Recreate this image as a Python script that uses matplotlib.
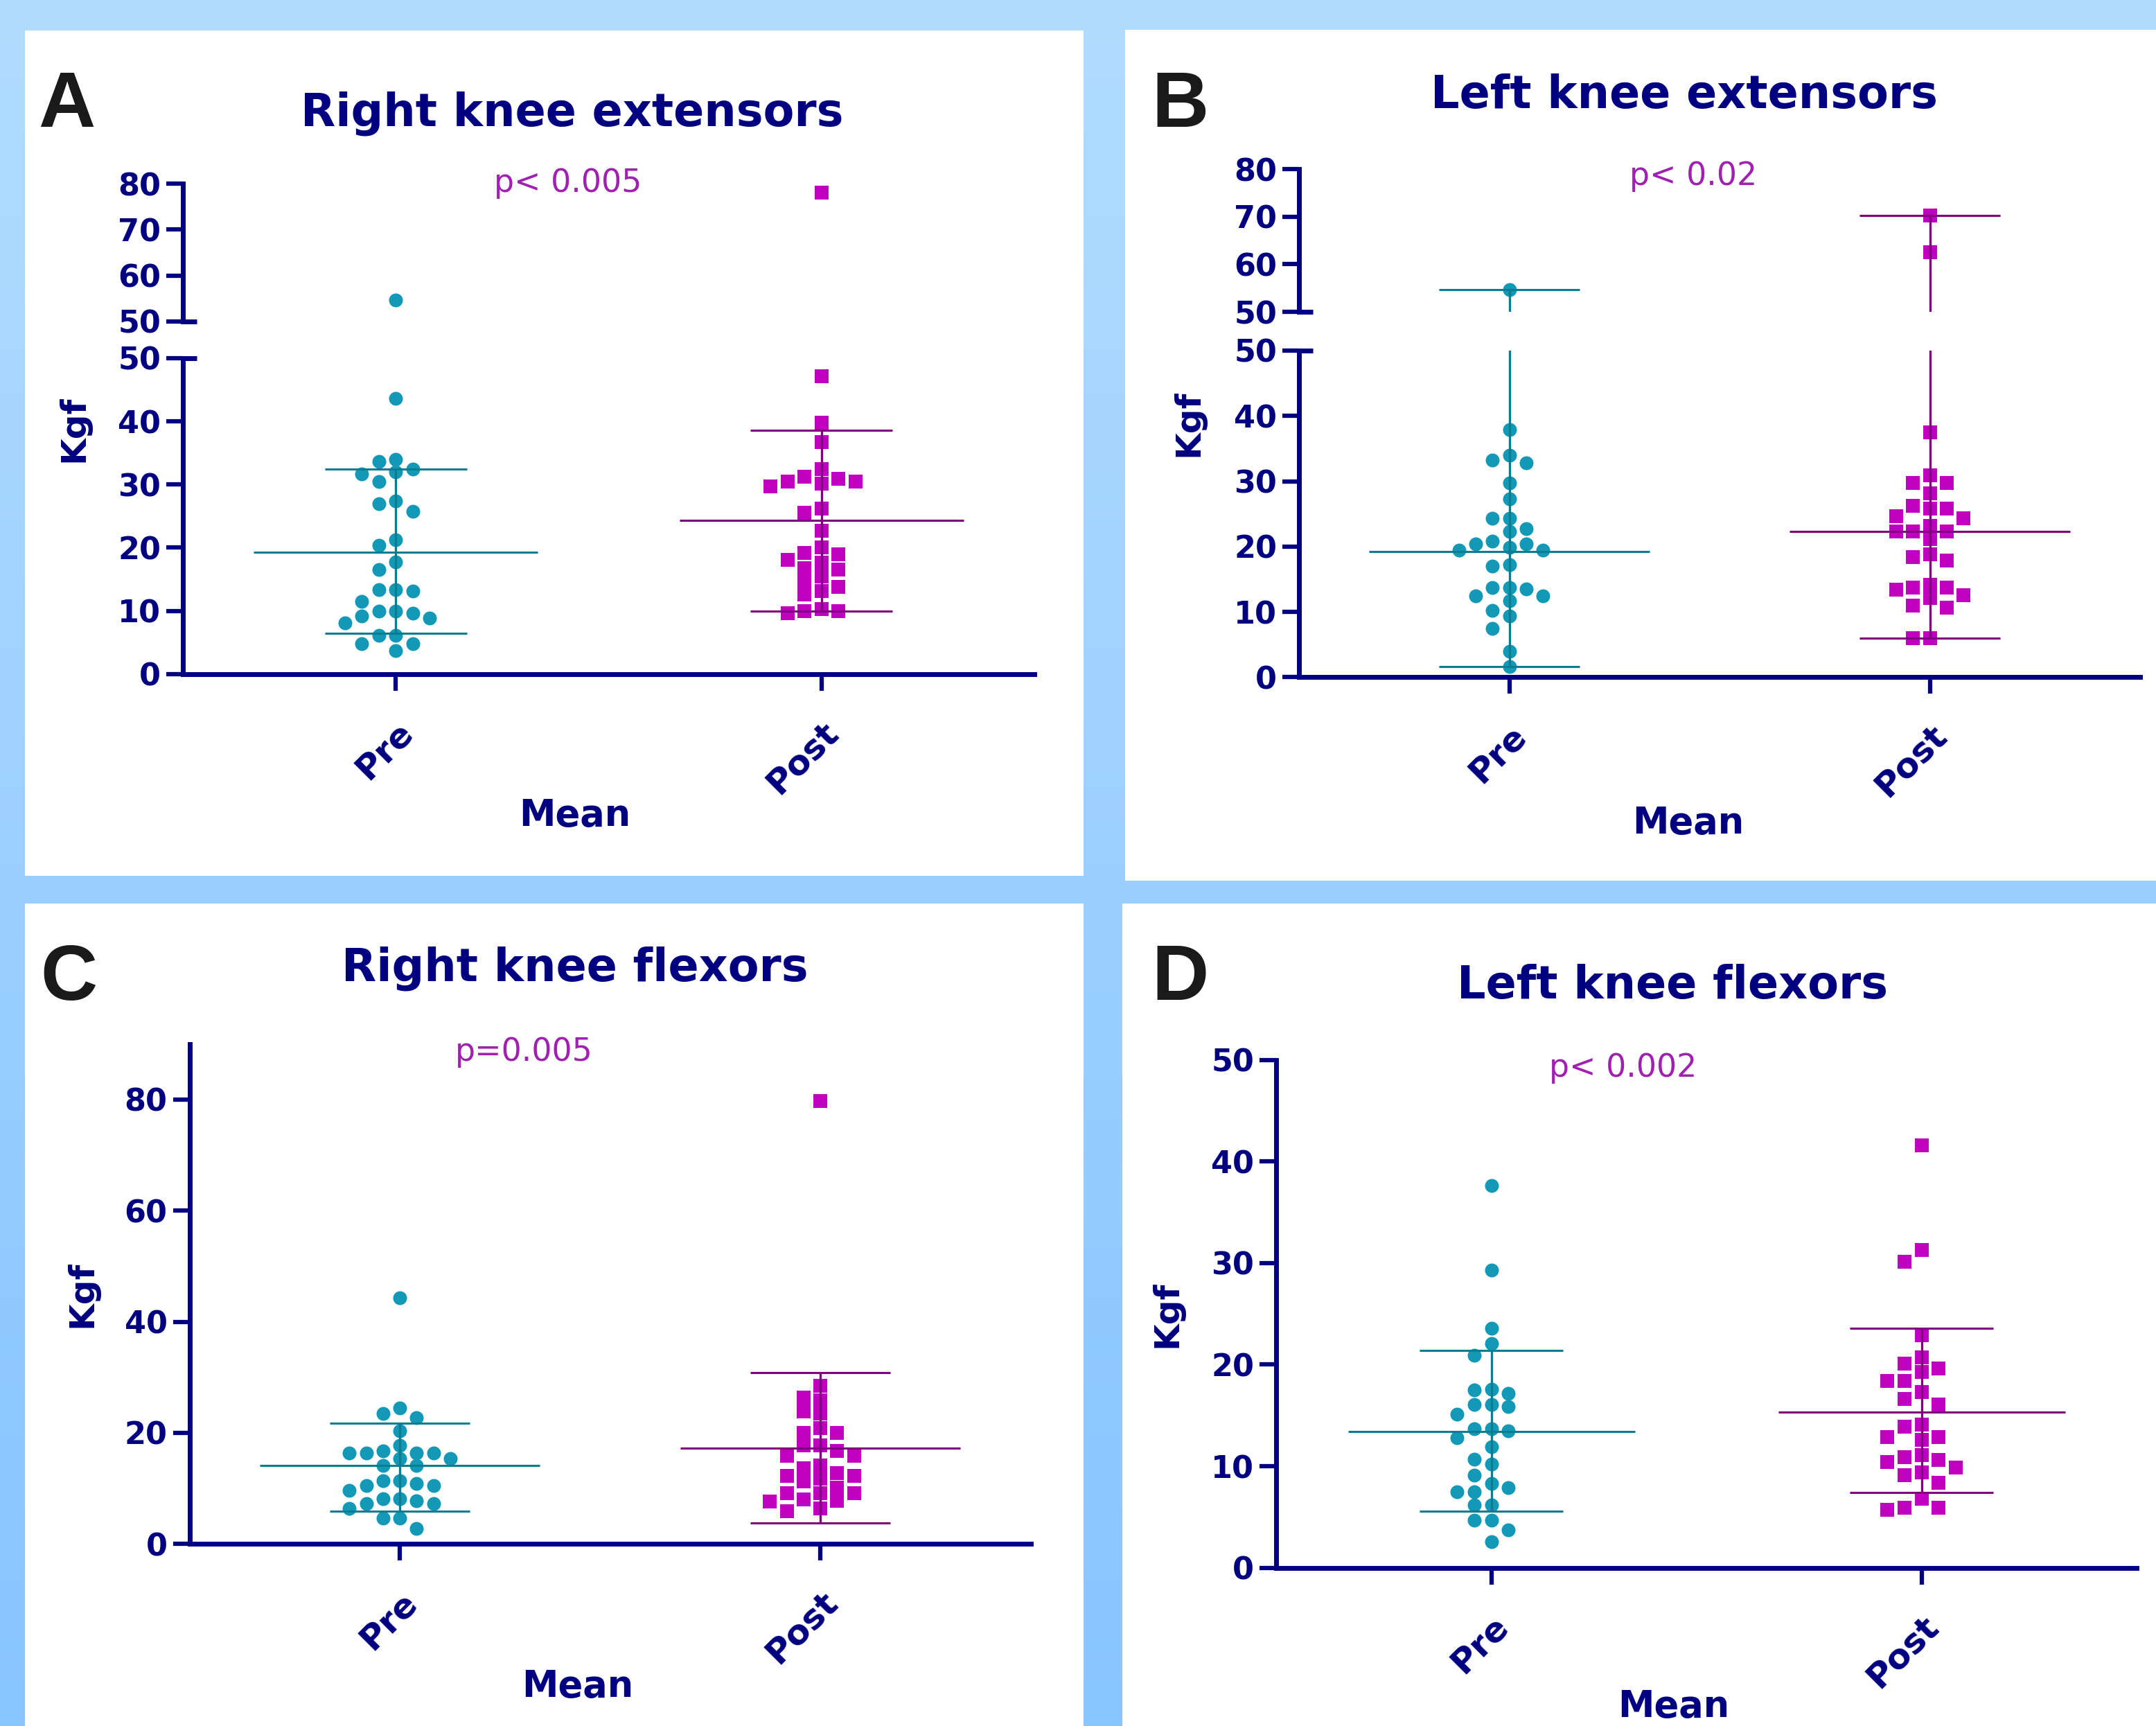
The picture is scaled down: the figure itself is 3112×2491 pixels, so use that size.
import numpy as np
import matplotlib
matplotlib.use("Agg")
import matplotlib.pyplot as plt
from matplotlib.patches import Rectangle

W, H = 3112, 2491

# values (Kgf)
groups = ["Pre", "Post"]

a_pre = [54.6, 43.6, 33.6, 34.0, 32.4, 31.7, 32.0, 30.5, 27.4, 27.0, 25.8, 21.2, 20.4, 17.7, 16.5,
         13.4, 13.1, 13.4, 11.5, 9.9, 9.6, 8.1, 8.85, 9.15, 9.9, 6.1, 6.1, 4.8, 4.8, 3.7]
a_post = [78.1, 47.2, 39.8, 36.7, 32.4, 30.9, 30.5, 29.7, 30.1, 30.5, 31.2, 26.2, 25.5, 22.7, 20.0,
          19.2, 18.9, 18.1, 17.6, 16.7, 16.5, 15.4, 14.6, 13.8, 13.1, 12.6, 9.9, 9.6, 9.9, 10.3]
a_mean = [19.3, 24.3]
a_low = [6.4, 9.9]
a_high = [32.4, 38.6]

b_pre = [54.6, 37.9, 34.0, 32.8, 33.2, 29.7, 27.3, 24.3, 24.3, 22.3, 22.7, 20.8, 20.4, 19.4, 19.5,
         20.4, 19.9, 17.0, 17.2, 13.7, 13.7, 13.5, 12.5, 12.5, 11.7, 10.2, 9.4, 7.5, 4.0, 1.6]
b_post = [70.2, 62.6, 37.5, 30.9, 29.7, 29.7, 28.1, 25.8, 25.8, 26.2, 24.6, 24.3, 23.2, 22.3, 22.3,
          22.3, 21.2, 18.4, 18.8, 17.9, 13.7, 14.2, 13.4, 13.7, 12.1, 12.6, 11.0, 10.7, 6.0, 6.0]
b_mean = [19.2, 22.3]
b_low = [1.6, 6.0]
b_high = [54.6, 70.2]

c_pre = [44.3, 23.5, 24.5, 22.7, 20.4, 17.7, 16.4, 16.4, 15.4, 14.1, 14.1, 15.4, 16.4, 16.4, 16.8,
         11.4, 10.5, 9.6, 10.5, 10.9, 11.4, 8.2, 7.8, 7.3, 6.4, 7.3, 8.2, 4.7, 4.7, 2.8]
c_post = [79.8, 28.5, 25.9, 26.3, 23.9, 23.5, 20.9, 20.0, 20.0, 17.7, 17.7, 15.9, 15.9, 16.7, 14.1,
          13.6, 12.3, 11.8, 12.3, 12.7, 11.3, 10.1, 8.0, 9.2, 7.7, 9.2, 9.2, 7.8, 6.4, 5.9]
c_mean = [14.1, 17.3]
c_low = [5.9, 3.8]
c_high = [21.7, 30.8]

d_pre = [37.6, 29.3, 23.6, 22.1, 20.9, 17.6, 17.2, 17.5, 16.1, 16.1, 15.9, 15.1, 13.7, 12.8, 13.5,
         13.7, 11.9, 10.7, 10.2, 9.1, 8.3, 7.5, 7.9, 7.5, 6.2, 6.2, 4.7, 4.7, 3.7, 2.6]
d_post = [41.6, 31.3, 30.1, 22.9, 19.6, 20.1, 20.7, 19.3, 18.4, 17.3, 18.4, 16.6, 16.1, 13.9, 14.1,
          12.9, 12.6, 12.9, 10.9, 11.1, 10.4, 10.6, 9.4, 9.9, 9.1, 8.4, 6.8, 5.9, 5.7, 5.9]
d_mean = [13.4, 15.3]
d_low = [5.6, 7.4]
d_high = [21.4, 23.6]

NAVY = "#000080"
PRE_DOT = "#1399b6"
PRE_LINE = "#0b7d93"
POST_DOT = "#c000c0"
POST_LINE = "#800080"
PTXT = "#a020b0"

TICK_FS = 32
SPINE_LW = 5
MARKER_PX = 20


def box(x0, y0, x1, y1):
    return [x0 / W, 1 - y1 / H, (x1 - x0) / W, (y1 - y0) / H]


def ftext(fig, x, y, s, **kw):
    fig.text(x / W, 1 - y / H, s, **kw)


def swarm_offsets(values, dy_min, step=0.04):
    # greedy column layout, like a scatter dot plot
    values = np.asarray(values)
    offs = np.zeros(len(values))
    placed = {}
    for i in np.argsort(-values, kind="stable"):
        v = values[i]
        for k in [0, -1, 1, -2, 2, -3, 3, -4, 4, -5, 5, -6, 6]:
            if all(abs(v - y) >= dy_min for y in placed.get(k, [])):
                placed.setdefault(k, []).append(v)
                offs[i] = k * step
                break
    return offs


def style_axis(ax, ylim, yticks, bottom=True):
    ax.set_facecolor("none")
    ax.set_xlim(-0.5, 1.5)
    ax.set_ylim(*ylim)
    ax.set_yticks(yticks)
    for side in ["top", "right"]:
        ax.spines[side].set_visible(False)
    for side in ["left", "bottom"]:
        ax.spines[side].set_color(NAVY)
        ax.spines[side].set_linewidth(SPINE_LW)
    ax.tick_params(axis="y", direction="out", length=17, width=4.5, color=NAVY,
                   labelsize=TICK_FS, labelcolor=NAVY, pad=6)
    for lab in ax.get_yticklabels():
        lab.set_fontweight("bold")
    if bottom:
        ax.set_xticks([0, 1])
        ax.set_xticklabels(groups, rotation=45, ha="right", rotation_mode="anchor",
                           fontsize=36, fontweight="bold", color=NAVY)
        ax.tick_params(axis="x", direction="out", length=17, width=4.5, color=NAVY, pad=26)
    else:
        ax.spines["bottom"].set_visible(False)
        ax.set_xticks([])


def draw_groups(ax, pre, post, mean, low, high, px_per_unit):
    dy_min = 18 / px_per_unit
    for i, (vals, dot, line, mk) in enumerate([(pre, PRE_DOT, PRE_LINE, "o"),
                                                (post, POST_DOT, POST_LINE, "s")]):
        x = i + swarm_offsets(vals, dy_min)
        ax.scatter(x, vals, s=(MARKER_PX * 0.72) ** 2, marker=mk, color=dot,
                   linewidths=0, zorder=2)
        ax.vlines(i, low[i], high[i], color=line, lw=2.4, zorder=3)
        ax.hlines([low[i], high[i]], i - 1 / 6, i + 1 / 6, color=line, lw=2.2, zorder=3)
        ax.hlines(mean[i], i - 1 / 3, i + 1 / 3, color=line, lw=2.2, zorder=3)


def break_mark(ax, y):
    ax.plot([0, 0.0165], [y, y], transform=ax.transAxes, color=NAVY, lw=SPINE_LW,
            clip_on=False, solid_capstyle="butt")


fig = plt.figure(figsize=(W / 100, H / 100), dpi=100)

# background frame and white panels
bg = fig.add_axes([0, 0, 1, 1])
top = np.array([176, 220, 255]) / 255
bot = np.array([136, 196, 255]) / 255
t = np.linspace(0, 1, 256)[:, None]
grad = (top * (1 - t) + bot * t)[:, None, :]
bg.imshow(grad, aspect="auto", extent=[0, 1, 0, 1], origin="upper")
for (x0, y0, x1, y1) in [(36, 44, 1564, 1264), (1624, 43, 3112, 1271),
                         (36, 1304, 1564, 2491), (1620, 1304, 3112, 2491)]:
    bg.add_patch(Rectangle((x0 / W, 1 - y1 / H), (x1 - x0) / W, (y1 - y0) / H,
                           facecolor="white", edgecolor="none"))
bg.set_xlim(0, 1)
bg.set_ylim(0, 1)
bg.axis("off")

# panel A (broken axis)
ax_lo = fig.add_axes(box(264, 517, 1493, 972.7))
ax_up = fig.add_axes(box(264, 265.3, 1493, 463.8))
style_axis(ax_lo, (0, 50), range(0, 51, 10))
style_axis(ax_up, (50, 80), range(50, 81, 10), bottom=False)
for ax in (ax_lo, ax_up):
    draw_groups(ax, a_pre, a_post, a_mean, a_low, a_high, (972.7 - 517) / 50)
break_mark(ax_lo, 1)
break_mark(ax_up, 0)

# panel B (broken axis)
bx_lo = fig.add_axes(box(1875, 506, 3089, 977.4))
bx_up = fig.add_axes(box(1875, 244.3, 3089, 450))
style_axis(bx_lo, (0, 50), range(0, 51, 10))
style_axis(bx_up, (50, 80), range(50, 81, 10), bottom=False)
for ax in (bx_lo, bx_up):
    draw_groups(ax, b_pre, b_post, b_mean, b_low, b_high, (977.4 - 506) / 50)
break_mark(bx_lo, 1)
break_mark(bx_up, 0)

# panel C
cx = fig.add_axes(box(273.6, 1506.8, 1487.6, 2228.3))
style_axis(cx, (0, 90), range(0, 81, 20))
draw_groups(cx, c_pre, c_post, c_mean, c_low, c_high, (2228.3 - 1506.8) / 90)

# panel D
dx = fig.add_axes(box(1842, 1529.7, 3084, 2262.7))
style_axis(dx, (0, 50), range(0, 51, 10))
draw_groups(dx, d_pre, d_post, d_mean, d_low, d_high, (2262.7 - 1529.7) / 50)

# text
title_kw = dict(fontsize=47, fontweight="bold", color=NAVY, ha="center", va="baseline")
ftext(fig, 826, 181, "Right knee extensors", **title_kw)
ftext(fig, 2431, 156, "Left knee extensors", **title_kw)
ftext(fig, 830, 1416, "Right knee flexors", **title_kw)
ftext(fig, 2414, 1441, "Left knee flexors", **title_kw)

letter_kw = dict(fontsize=82, fontweight="bold", color="#1a1a1a", ha="left", va="baseline",
                 family="Liberation Sans")
ftext(fig, 55, 183, "A", **letter_kw)
ftext(fig, 1662, 183, "B", **letter_kw)
ftext(fig, 58, 1443, "C", **letter_kw)
ftext(fig, 1662, 1443, "D", **letter_kw)

p_kw = dict(fontsize=33, color=PTXT, ha="left", va="baseline")
ftext(fig, 713, 277, "p< 0.005", **p_kw)
ftext(fig, 2352, 267, "p< 0.02", **p_kw)
ftext(fig, 657, 1531, "p=0.005", **p_kw)
ftext(fig, 2236, 1554, "p< 0.002", **p_kw)

ylab_kw = dict(fontsize=36, fontweight="bold", color=NAVY, rotation=90, ha="center", va="center")
ftext(fig, 106, 619, "Kgf", **ylab_kw)
ftext(fig, 1715, 611, "Kgf", **ylab_kw)
ftext(fig, 118, 1868, "Kgf", **ylab_kw)
ftext(fig, 1684, 1897, "Kgf", **ylab_kw)

xlab_kw = dict(fontsize=38, fontweight="bold", color=NAVY, ha="center", va="baseline")
ftext(fig, 830, 1192, "Mean", **xlab_kw)
ftext(fig, 2437, 1203, "Mean", **xlab_kw)
ftext(fig, 834, 2449, "Mean", **xlab_kw)
ftext(fig, 2416, 2478, "Mean", **xlab_kw)

fig.savefig("out.png", dpi=100)
